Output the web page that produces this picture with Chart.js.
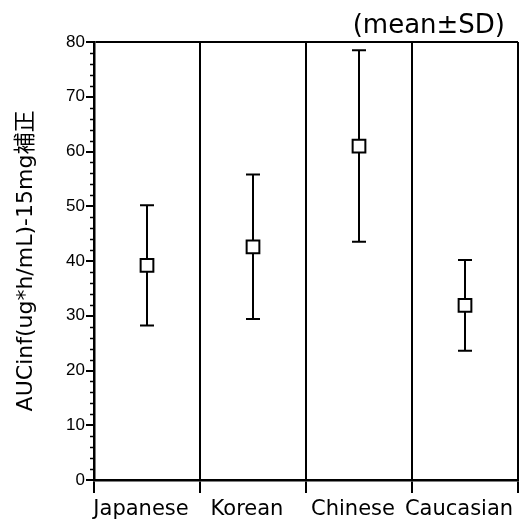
<!DOCTYPE html>
<html>
<head>
<meta charset="utf-8">
<script src="https://cdn.jsdelivr.net/npm/chart.js@4.4.1/dist/chart.umd.min.js"></script>
<style>
  html, body { margin: 0; padding: 0; background: #fff; }
  #wrap { width: 519px; height: 526px; }
</style>
</head>
<body>
<div id="wrap"><canvas id="aucChart" width="519" height="526"></canvas></div>
<script>
var categories = ['Japanese', 'Korean', 'Chinese', 'Caucasian'];
var means = [39.2, 42.6, 61.0, 31.9];
var sds = [11.0, 13.2, 17.5, 8.3];
var yTicks = [0, 10, 20, 30, 40, 50, 60, 70, 80];

var fontFam = '"DejaVu Sans", "Noto Sans CJK JP", sans-serif';

// error bars drawn under the markers
var errorBars = {
  id: 'errorBars',
  beforeDatasetsDraw: function(chart) {
    var ctx = chart.ctx;
    var x = chart.scales.x, y = chart.scales.y;
    ctx.save();
    ctx.strokeStyle = '#000';
    ctx.lineWidth = 2;
    for (var i = 0; i < means.length; i++) {
      var px = x.getPixelForValue(i);
      var top = y.getPixelForValue(means[i] + sds[i]);
      var bot = y.getPixelForValue(means[i] - sds[i]);
      ctx.beginPath();
      ctx.moveTo(px, top); ctx.lineTo(px, bot);
      ctx.moveTo(px - 7, top); ctx.lineTo(px + 7, top);
      ctx.moveTo(px - 7, bot); ctx.lineTo(px + 7, bot);
      ctx.stroke();
    }
    ctx.restore();
  }
};

// short minor ticks every 2 units + the note at top right
var extras = {
  id: 'extras',
  afterDraw: function(chart) {
    var ctx = chart.ctx;
    var y = chart.scales.y;
    var left = chart.chartArea.left;
    ctx.save();
    ctx.strokeStyle = '#000';
    ctx.lineWidth = 1.5;
    for (var v = 2; v < 80; v += 2) {
      if (v % 10 === 0) continue;
      var py = Math.round(y.getPixelForValue(v)) + 0.5;
      ctx.beginPath();
      ctx.moveTo(left - 4, py); ctx.lineTo(left, py);
      ctx.stroke();
    }
    ctx.fillStyle = '#000';
    ctx.font = '26px ' + fontFam;
    ctx.textAlign = 'right';
    ctx.textBaseline = 'middle';
    ctx.fillText('(mean\u00B1SD)', 505, 26);
    ctx.restore();
  }
};

var ctx = document.getElementById('aucChart');
var chart = new Chart(ctx, {
  type: 'line',
  data: {
    labels: categories,
    datasets: [{
      label: 'AUCinf',
      data: means,
      showLine: false,
      pointStyle: 'rect',
      pointRadius: 9,
      pointHoverRadius: 9,
      pointBackgroundColor: '#fff',
      pointBorderColor: '#000',
      pointBorderWidth: 2
    }]
  },
  options: {
    responsive: false,
    animation: false,
    layout: { autoPadding: false, padding: { top: 42, right: 1, left: 0, bottom: 0 } },
    plugins: {
      legend: { display: false },
      tooltip: { enabled: false }
    },
    scales: {
      x: {
        type: 'category',
        offset: true,
        grid: {
          offset: true,
          color: '#000',
          lineWidth: 2,
          tickLength: 13
        },
        border: { color: '#000', width: 2.5 },
        ticks: {
          color: '#000',
          labelOffset: -6,
          padding: 4,
          autoSkip: false,
          maxRotation: 0,
          minRotation: 0,
          font: { family: fontFam, size: 21 }
        },
        afterFit: function(scale) {
          scale.height = 46;
          scale.paddingLeft = 0;
          scale.paddingRight = 0;
        }
      },
      y: {
        min: 0,
        max: 80,
        afterBuildTicks: function(scale) {
          scale.ticks = yTicks.map(function(v) { return { value: v }; });
        },
        grid: {
          color: function(c) { return c.tick && c.tick.value === 80 ? '#000' : 'rgba(0,0,0,0)'; },
          lineWidth: 2,
          tickColor: '#000',
          tickLength: 8
        },
        border: { color: '#000', width: 2.5 },
        ticks: {
          color: '#000',
          padding: 1,
          font: { family: '"Liberation Sans", Arial, sans-serif', size: 17 }
        },
        title: {
          display: true,
          text: 'AUCinf(ug*h/mL)-15mg\u88DC\u6B63',
          color: '#000',
          padding: { top: 13, bottom: 0 },
          font: { family: fontFam, size: 22 }
        },
        afterFit: function(scale) { scale.width = 94; }
      }
    }
  },
  plugins: [errorBars, extras]
});
</script>
</body>
</html>
